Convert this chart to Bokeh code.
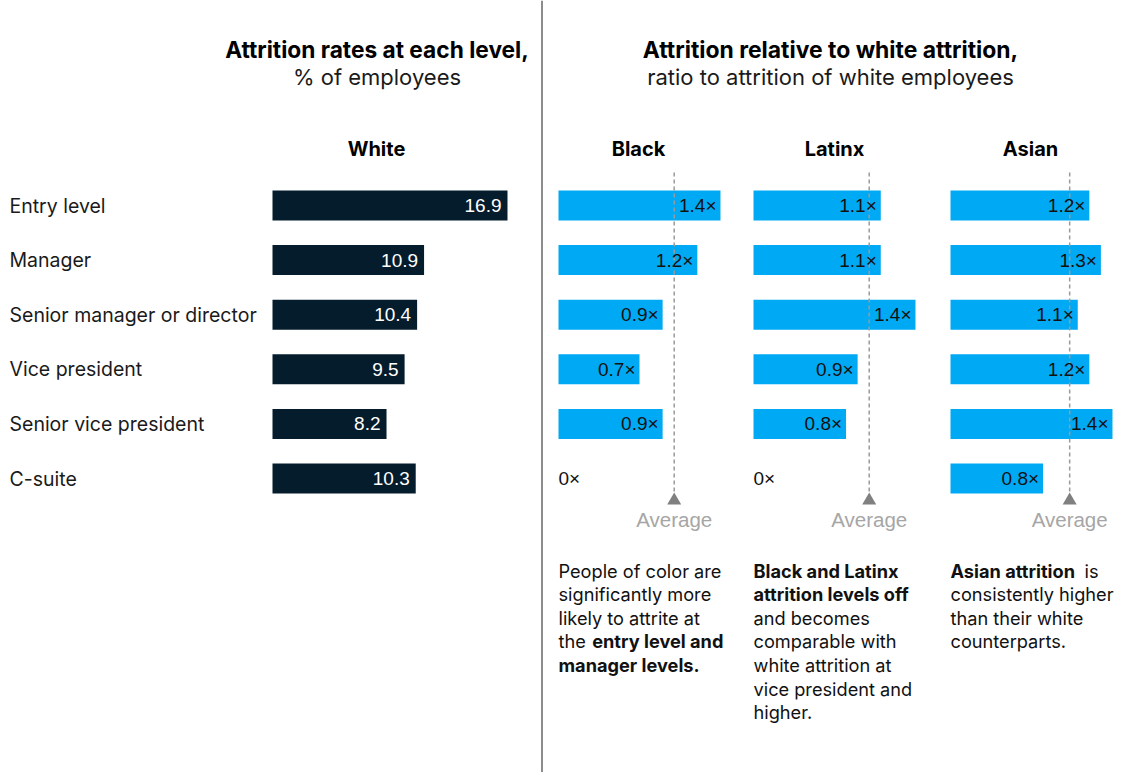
import numpy as np
from bokeh.plotting import figure
from bokeh.models import Range1d, Label, Span
from bokeh.core.properties import value
from bokeh.embed import file_html
from bokeh.resources import INLINE

# ---------------- data ----------------
levels = ["Entry level", "Manager", "Senior manager or director",
          "Vice president", "Senior vice president", "C-suite"]
white_rates = [16.9, 10.9, 10.4, 9.5, 8.2, 10.3]
groups = ["Black", "Latinx", "Asian"]
black_ratio = [1.4, 1.2, 0.9, 0.7, 0.9, 0.0]
latinx_ratio = [1.1, 1.1, 1.4, 0.9, 0.8, 0.0]
asian_ratio = [1.2, 1.3, 1.1, 1.2, 1.4, 0.8]
average_marker = [1.0, 1.0, 1.03]   # where the "Average" marker sits in each panel

left_title = ["Attrition rates at each level,", "% of employees"]
right_title = ["Attrition relative to white attrition,", "ratio to attrition of white employees"]

# note pieces: (line, x offset px, text, bold)
notes = {
    "Black": [(0, 0, "People of color are", False), (1, 0, "significantly more", False),
              (2, 0, "likely to attrite at", False), (3, 0, "the", False),
              (3, 33.7, "entry level and", True), (4, 0, "manager levels.", True)],
    "Latinx": [(0, 0, "Black and Latinx", True), (1, 0, "attrition levels off", True),
               (2, 0, "and becomes", False), (3, 0, "comparable with", False),
               (4, 0, "white attrition at", False), (5, 0, "vice president and", False),
               (6, 0, "higher.", False)],
    "Asian": [(0, 0, "Asian attrition", True), (0, 134, "is", False),
              (1, 0, "consistently higher", False), (2, 0, "than their white", False),
              (3, 0, "counterparts.", False)],
}

# ---------------- layout / style ----------------
W, H = 1116, 772
FONT = "Inter"
NUM_FONT = "Liberation Sans"
NAVY = "#051c2c"
BLUE = "#00a9f4"
TXT = "#1a1a1a"

row_px0, row_step = 205.0, 54.6
top_val = -row_px0 / row_step
bottom_val = top_val + H / row_step

zero_px = {"White": 272.0, "Black": 558.0, "Latinx": 753.0, "Asian": 950.0}
ppu = {"White": 13.905, "Black": 115.7, "Latinx": 115.7, "Asian": 115.7}
header_x = {"White": 376.0, "Black": 638.0, "Latinx": 834.0, "Asian": 1030.0}

p = figure(width=W, height=H, output_backend="svg", toolbar_location=None,
           x_range=Range1d(0, W), y_range=Range1d(bottom_val, top_val),
           x_axis_location=None, y_axis_location=None, min_border=0,
           outline_line_color=None, background_fill_color="white",
           border_fill_color="white")
p.grid.visible = False
p.extra_y_ranges = {"px": Range1d(H, 0)}
p.extra_x_ranges = {k: Range1d(-zero_px[k] / ppu[k], (W - zero_px[k]) / ppu[k]) for k in zero_px}

rows = np.arange(len(levels))

# divider
p.add_layout(Span(location=541.5, dimension="height", line_color="#8c8c8c", line_width=2))

# titles
for lines, cx, fs in ((left_title, 376.5, "22.7px"), (right_title, 830.0, "22.9px")):
    p.add_layout(Label(x=cx, y=49, y_range_name="px", text=lines[0], text_align="center",
                       text_baseline="middle", text_font=FONT, text_font_style="bold",
                       text_font_size=fs, text_color="#000000"))
    p.add_layout(Label(x=cx, y=76, y_range_name="px", text=lines[1], text_align="center",
                       text_baseline="middle", text_font=FONT, text_font_size="22px",
                       text_color="#1a1a1a"))

# column headers
for g, hx in header_x.items():
    p.add_layout(Label(x=hx, y=148, y_range_name="px", text=g, text_align="center",
                       text_baseline="middle", text_font=FONT, text_font_style="bold",
                       text_font_size="20px", text_color="#000000"))

# category labels
p.text(x=[9] * len(levels), y=rows, text=levels, text_align="left", text_baseline="middle",
       text_font=value(FONT), text_font_size="19.5px", text_color=TXT)

# white bars
p.hbar(y=rows, left=0, right=white_rates, height=0.55, fill_color=NAVY, line_color=None,
       x_range_name="White")
p.text(x=white_rates, y=rows, text=[f"{v:.1f}" for v in white_rates], x_offset=-6,
       text_align="right", text_baseline="middle", text_font=value(NUM_FONT),
       text_font_size="19px", text_color="white", x_range_name="White")

# ratio panels
for g, vals, avg in zip(groups, [black_ratio, latinx_ratio, asian_ratio], average_marker):
    vals = np.array(vals)
    nz = vals > 0
    p.hbar(y=rows[nz], left=0, right=vals[nz], height=0.55, fill_color=BLUE,
           line_color=None, x_range_name=g)
    p.segment(x0=[avg], x1=[avg], y0=[172], y1=[492],
              line_color="#9a9a9a", line_width=1.5, line_dash="4 3",
              x_range_name=g, y_range_name="px")
    p.text(x=vals[nz], y=rows[nz], text=[f"{v:.1f}\u00d7" for v in vals[nz]], x_offset=-4,
           text_align="right", text_baseline="middle", text_font=value(NUM_FONT),
           text_font_size="19px", text_color="#111111", x_range_name=g)
    if (~nz).any():
        p.text(x=vals[~nz], y=rows[~nz], text=["0\u00d7"] * int((~nz).sum()),
               text_align="left", text_baseline="middle", text_font=value(NUM_FONT),
               text_font_size="19px", text_color="#111111", x_range_name=g)
    p.scatter(x=[avg], y=[500], marker="triangle", size=14, fill_color="#808080",
              line_color=None, x_range_name=g, y_range_name="px")
    p.text(x=[avg], y=[519], text=["Average"], text_align="center",
           text_baseline="middle", text_font=value(NUM_FONT), text_font_size="20.5px",
           text_color="#a6a6a6", x_range_name=g, y_range_name="px")
    # notes
    for line, dx, txt, bold in notes[g]:
        p.add_layout(Label(x=zero_px[g] + dx, y=570 + 23.6 * line, y_range_name="px",
                           text=txt, text_align="left", text_baseline="middle",
                           text_font=FONT, text_font_size="18.2px",
                           text_font_style="bold" if bold else "normal",
                           text_color="#111111"))

open("out.html", "w").write(file_html(p, INLINE))
